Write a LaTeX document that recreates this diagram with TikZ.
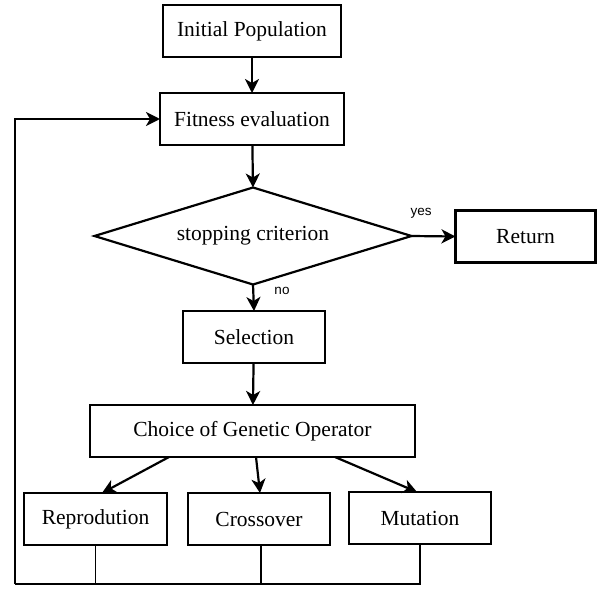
\documentclass[tikz,border=0pt]{standalone}
\usepackage{fontspec}
\setmainfont{Liberation Serif}
\newfontfamily\lsans{Liberation Sans}
\usetikzlibrary{shapes.geometric,arrows.meta}
\begin{document}
\begin{tikzpicture}[x=1pt,y=-1pt,
  box/.style={draw,line width=2.2pt,inner sep=0pt,outer sep=0pt,minimum height=52pt,
    font=\fontsize{21.5}{24}\selectfont},
  dec/.style={draw,diamond,aspect=3.27,line width=2.2pt,inner sep=0pt,outer sep=0pt,
    minimum width=317pt,minimum height=97pt,font=\fontsize{21.5}{24}\selectfont},
  arr/.style={line width=2.2pt,-{Stealth[length=14pt,width=14pt,inset=4pt]}},
  thin/.style={line width=1.5pt},
  lbl/.style={font=\lsans\fontsize{13.5}{15}\selectfont,inner sep=0pt}]
\useasboundingbox (0,0) rectangle (597,589);
\node[box,minimum width=178pt] (ip) at (252,31) {Initial Population};
\node[box,minimum width=184pt] (fe) at (252,119) {Fitness evaluation};
\node[dec] (sc) at (253,236) {stopping criterion};
\node[box,minimum width=140pt] (ret) at (525.5,236.5) {Return};
\node[box,minimum width=142pt] (sel) at (254,337) {Selection};
\node[box,minimum width=325pt] (cho) at (252.5,431) {Choice of Genetic Operator};
\node[box,minimum width=143pt] (rep) at (95.5,519) {Reprodution};
\node[box,minimum width=142pt] (cro) at (259,519) {Crossover};
\node[box,minimum width=142pt] (mut) at (420,518) {Mutation};
\coordinate (bl) at (15,584);
\draw[arr] (ip) -- (fe);
\draw[arr] (fe) -- (sc.north);
\draw[arr] (sc.east) -- (ret.west);
\draw[arr] (sc.south) -- (sel.north);
\node[lbl] (yes) at (421,213) {yes};
\node[lbl] (no) at (282,291) {no};
\draw[arr] (sel) -- (cho);
\draw[arr] ([xshift=-83.5pt]cho.south) -- ([xshift=6.5pt]rep.north);
\draw[arr] ([xshift=3.5pt]cho.south) -- ([xshift=1pt]cro.north);
\draw[arr] ([xshift=82.5pt]cho.south) -- ([xshift=-3pt]mut.north);
\draw[thin] (rep.south) -- (rep.south |- bl);
\draw[thin] ([xshift=2pt]cro.south) -- ([xshift=2pt]cro.south |- bl);
\draw[thin] (mut.south) |- (bl);
\draw[arr] (bl) |- (fe.west);
\end{tikzpicture}
\end{document}
